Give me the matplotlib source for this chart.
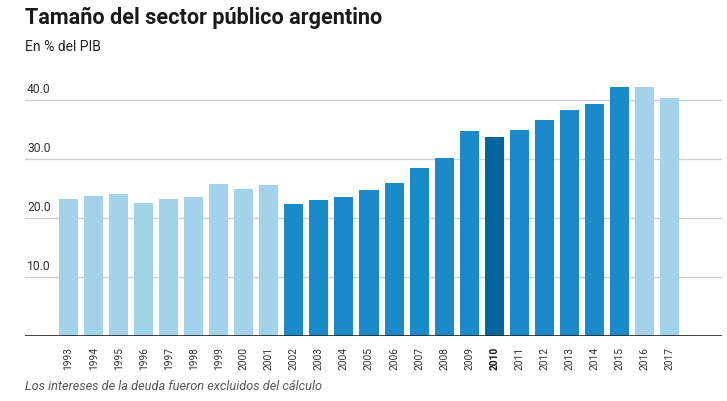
import matplotlib.pyplot as plt

years = [str(y) for y in range(1993, 2018)]
values = [23.2, 23.7, 24.0, 22.5, 23.2, 23.5, 25.7, 24.8, 25.5,
          22.3, 23.0, 23.5, 24.7, 25.8, 28.5, 30.1, 34.6, 33.6,
          34.8, 36.5, 38.2, 39.2, 42.1, 42.1, 40.2]
yticks = [10, 20, 30, 40]

light = '#a3d3eb'
medium = '#1a8acb'
dark = '#05659f'

colors = []
for y in years:
    yr = int(y)
    if yr == 2010:
        colors.append(dark)
    elif 2002 <= yr <= 2015:
        colors.append(medium)
    else:
        colors.append(light)

plt.rcParams['font.family'] = ['Roboto', 'DejaVu Sans']

fig = plt.figure(figsize=(7.27, 4.01), dpi=100)
ax = fig.add_axes([25/727, 1 - 336/401, 697/727, 266/401])

x = list(range(len(years)))
ax.bar(x, values, width=0.76, color=colors, zorder=2)

ax.set_xlim(-1.74, len(years) - 1 + 2.1)
ax.set_ylim(0, 45)

## gridlines with labels sitting on top of them
for t in yticks:
    ax.axhline(t, color='#d0d0d0', linewidth=1, zorder=1)
    ax.text(0.003, t + 0.6, '%.1f' % t, transform=ax.get_yaxis_transform(),
            fontsize=8.7, color='#333333', va='bottom', ha='left')
ax.axhline(0, color='#222222', linewidth=1.2, zorder=3)

for s in ax.spines.values():
    s.set_visible(False)
ax.set_yticks([])
ax.set_xticks(x)
ax.set_xticklabels(years, rotation=90, fontsize=7.3, color='#333333')
ax.tick_params(axis='x', length=0, pad=8)
for lbl in ax.get_xticklabels():
    if lbl.get_text() == '2010':
        lbl.set_fontweight('bold')
        lbl.set_color('#111111')

fig.text(25/727, 1 - 18/401, 'Tamaño del sector público argentino',
         fontsize=15.6, fontweight='bold', color='#1a1a1a', va='center')
fig.text(25/727, 1 - 47/401, 'En % del PIB', fontsize=10,
         color='#222222', va='center')
fig.text(25/727, 1 - 387/401, 'Los intereses de la deuda fueron excluidos del cálculo',
         fontsize=9.2, style='italic', color='#555555', va='center')

fig.savefig('out.png', dpi=100)
